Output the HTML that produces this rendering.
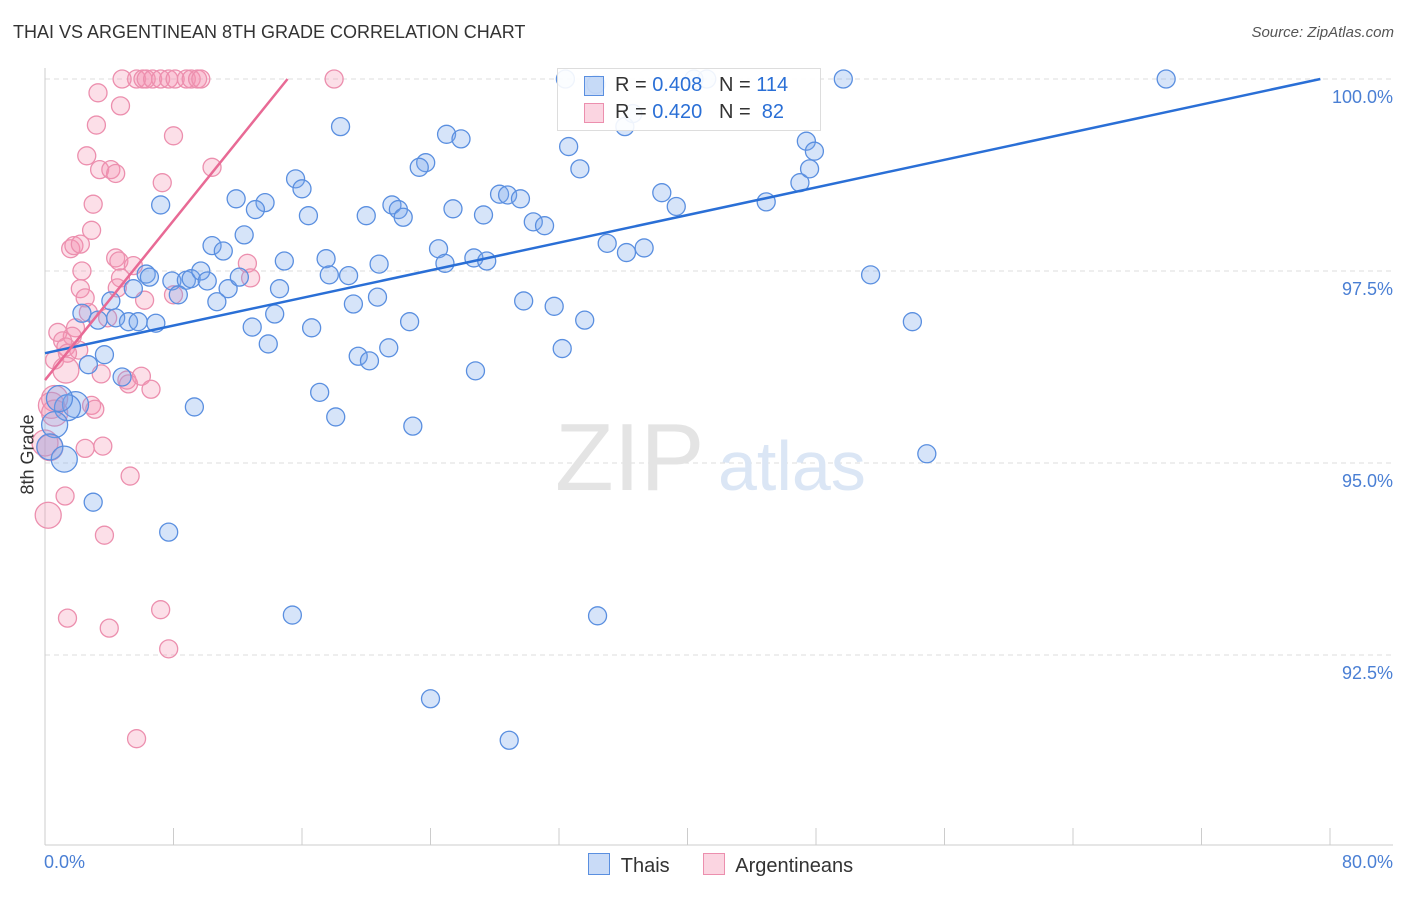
<!DOCTYPE html>
<html><head><meta charset="utf-8"><style>
body{margin:0;background:#fff;font-family:"Liberation Sans",sans-serif}
svg text{font-family:"Liberation Sans",sans-serif}
</style></head><body>
<svg id="c" width="1406" height="892"></svg>
<script>
const xTicks=[0,8,16,24,32,40,48,56,64,72,80];
const yTicks=[100,97.5,95,92.5];
const thaiX=[32.4,40.4,41.2,49.7,69.8,34.3,36.1,36.6,18.4,25.0,25.9,23.7,23.3,32.6,33.3,47.4,47.9,15.6,16.0,7.2,11.9,13.7,13.1,16.4,20.0,21.6,22.0,22.3,25.4,27.3,28.3,28.8,29.6,30.4,31.1,38.4,39.3,44.9,47.0,47.6,10.4,11.1,12.4,14.9,17.5,17.7,18.9,20.8,24.5,24.9,26.7,27.5,35.0,36.2,37.3,51.4,6.3,6.5,7.9,8.8,9.1,9.7,10.1,11.4,12.1,14.6,5.5,4.1,8.3,10.7,19.2,20.7,29.8,31.7,33.6,54.0,2.3,3.3,4.4,5.2,5.8,6.9,12.9,14.3,16.6,22.7,13.9,21.4,19.5,20.2,26.8,32.2,3.7,2.7,4.8,17.1,18.1,22.9,9.3,1.9,1.4,0.9,0.6,0.3,1.2,3.0,7.7,54.9,15.4,34.4,24.0,28.9];
const thaiY=[100,100,100,100,100,99.93,99.38,99.55,99.38,99.28,99.22,98.91,98.85,99.12,98.83,99.19,99.06,98.70,98.57,98.36,98.44,98.39,98.30,98.22,98.22,98.36,98.30,98.20,98.31,98.23,98.50,98.49,98.44,98.14,98.09,98.52,98.34,98.40,98.65,98.83,97.83,97.76,97.97,97.63,97.66,97.45,97.44,97.59,97.79,97.60,97.67,97.63,97.86,97.74,97.80,97.45,97.46,97.42,97.37,97.38,97.40,97.50,97.37,97.27,97.42,97.27,97.27,97.11,97.19,97.10,97.07,97.16,97.11,97.04,96.86,96.84,96.95,96.86,96.89,96.84,96.84,96.82,96.77,96.94,96.76,96.84,96.55,96.50,96.39,96.33,96.20,96.49,96.41,96.28,96.12,95.92,95.60,95.48,95.73,95.76,95.72,95.84,95.50,95.21,95.05,94.49,94.10,95.12,93.02,93.01,91.93,91.39];
const argX=[5.7,6.1,6.3,6.7,7.2,7.7,8.1,8.8,9.1,9.5,9.7,18.0,4.8,3.3,4.7,3.2,8.0,2.6,3.4,4.1,4.4,10.4,7.3,3.0,2.9,1.6,1.8,2.2,2.3,4.4,4.6,5.5,4.7,2.2,12.6,12.8,8.0,2.5,4.5,6.2,3.9,2.7,0.8,1.9,1.7,1.1,1.3,2.1,1.4,0.6,1.3,3.5,5.1,5.2,6.0,6.6,0.6,0.4,2.9,3.1,2.5,3.6,5.3,1.25,0.2,3.7,1.4,4.0,7.2,7.7,5.7,0.0,0.3,0.6];
const argY=[100,100,100,100,100,100,100,100,100,100,100,100,100,99.82,99.65,99.40,99.26,99.00,98.82,98.82,98.77,98.85,98.65,98.37,98.03,97.79,97.83,97.85,97.50,97.67,97.63,97.57,97.41,97.27,97.60,97.41,97.19,97.15,97.28,97.12,96.89,96.96,96.70,96.76,96.65,96.59,96.51,96.47,96.43,96.34,96.21,96.16,96.08,96.03,96.13,95.96,95.84,95.75,95.75,95.70,95.19,95.22,94.83,94.57,94.32,94.06,92.98,92.85,93.09,92.58,91.41,95.26,95.20,95.65];
const NS="http://www.w3.org/2000/svg";
const svg=document.getElementById('c');
const X0=45,X1=1330,Y100=79,PX=192/2.5;
const sx=v=>X0+v/80*(X1-X0), sy=v=>Y100+(100-v)*PX;
function mk(t,a,p){const e=document.createElementNS(NS,t);for(const k in a)e.setAttribute(k,a[k]);(p||svg).appendChild(e);return e;}
// grid
yTicks.forEach(v=>{const g=mk('line',{x1:X0,x2:1393,y1:sy(v),y2:sy(v),stroke:'#ddd','stroke-dasharray':'5,4'});

const t=mk('text',{x:1393,y:sy(v)+24,'text-anchor':'end',fill:'#4a7fd4','font-size':18});t.textContent=v.toFixed(1)+'%';
});
let a=mk('line',{x1:X0,x2:X0,y1:68,y2:845,stroke:'#ccc'});
a=mk('line',{x1:X0,x2:1393,y1:845,y2:845,stroke:'#ccc'});
xTicks.forEach(v=>{const l=mk('line',{x1:sx(v),x2:sx(v),y1:828,y2:845,stroke:'#ccc'});});
// watermark
let w=mk('text',{x:555,y:490,fill:'#e4e4e4','font-size':96,'font-family':'Liberation Serif'});w.textContent='ZIP';
w=mk('text',{x:718,y:490,fill:'#dbe6f5','font-size':70});w.textContent='atlas';
function pts(xs,ys,fill,stroke,name){xs.forEach((v,i)=>{let r=9;if(v<2.5&&ys[i]<96.3&&ys[i]>94.9)r=13;if(v<0.5)r=13;
const c=mk('circle',{cx:sx(v),cy:sy(ys[i]),r:r,fill:fill,stroke:stroke,'stroke-width':1.3});
});}
pts(argX,argY,'rgba(244,150,180,0.3)','#ec8fae','argentinean-point');
pts(thaiX,thaiY,'rgba(120,165,235,0.3)','#5a8fe0','thai-point');
a=mk('line',{x1:sx(0),y1:sy(96.43),x2:sx(79.4),y2:sy(100),stroke:'#2a6fd6','stroke-width':2.5});
a=mk('line',{x1:sx(0),y1:sy(96.08),x2:sx(15.1),y2:sy(100),stroke:'#e86a95','stroke-width':2.5});
</script>
<div style="position:absolute;left:13px;top:22px;font-size:18px;color:#333">THAI VS ARGENTINEAN 8TH GRADE CORRELATION CHART</div>
<div style="position:absolute;right:12px;top:24px;font-size:15px;color:#555;font-style:italic">Source: ZipAtlas.com</div>
<div style="position:absolute;left:-12px;top:444px;font-size:18px;color:#333;transform:rotate(-90deg)">8th Grade</div>
<div style="position:absolute;left:44px;top:852px;font-size:18px;color:#4a7fd4">0.0%</div>
<div style="position:absolute;right:13px;top:852px;font-size:18px;color:#4a7fd4">80.0%</div>
<div style="position:absolute;left:557px;top:68px;width:262px;height:61px;border:1px solid #ddd;background:rgba(255,255,255,.9);font-size:20px;color:#333">
<div style="position:absolute;left:26px;top:7px;width:18px;height:18px;background:rgba(120,165,235,.4);border:1px solid #5a8fe0"></div>
<div style="position:absolute;left:57px;top:5px">R = <span style="color:#2a6fd6">0.408</span>&nbsp;&nbsp;&nbsp;N = <span style="color:#2a6fd6">114</span></div>
<div style="position:absolute;left:26px;top:34px;width:18px;height:18px;background:rgba(244,150,180,.4);border:1px solid #ec8fae"></div>
<div style="position:absolute;left:57px;top:32px">R = <span style="color:#2a6fd6">0.420</span>&nbsp;&nbsp;&nbsp;N = &nbsp;<span style="color:#2a6fd6">82</span></div>
</div>
<div style="position:absolute;left:588px;top:853px;font-size:20px;color:#333">
<span><span style="display:inline-block;width:20px;height:20px;background:rgba(120,165,235,.4);border:1px solid #5a8fe0;vertical-align:-3px"></span>&nbsp; Thais</span>
<span style="margin-left:28px"><span style="display:inline-block;width:20px;height:20px;background:rgba(244,150,180,.4);border:1px solid #ec8fae;vertical-align:-3px"></span>&nbsp; Argentineans</span>
</div>
</body></html>
